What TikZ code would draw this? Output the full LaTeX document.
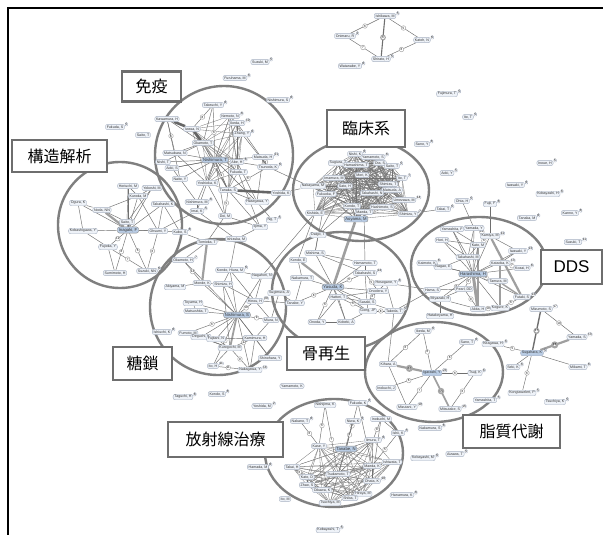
\documentclass[tikz,border=0pt]{standalone}
\usepackage{fontspec}
\setmainfont{Liberation Sans}
\newfontfamily\jpfont{Noto Sans CJK JP}
\definecolor{ringc}{HTML}{7F7F7F}
\definecolor{boxc}{HTML}{6E6E6E}
\definecolor{pill}{HTML}{EEF2F8}
\definecolor{pilld}{HTML}{A8B2C2}
\definecolor{hubc}{HTML}{B9CCE4}
\definecolor{edgec}{HTML}{6F6F6F}
\pgfdeclarelayer{edgel}
\pgfdeclarelayer{ringl}
\pgfdeclarelayer{topl}
\pgfsetlayers{edgel,ringl,main,topl}
\tikzset{
 pn/.style={draw=pilld, fill=pill, rounded corners=2pt, inner xsep=1.3pt, inner ysep=1.1pt, line width=0.4pt, font=\fontsize{3.6}{3.6}\selectfont, text=black!80},
 hubn/.style={pn, fill=hubc, draw=black!45, font=\fontsize{4.2}{4.2}\selectfont},
 sp/.style={draw=pilld, fill=white, rounded corners=0.8pt, inner sep=0.4pt, font=\fontsize{3.2}{3.2}\selectfont, anchor=west},
 e/.style={draw=edgec, line width=0.45pt},
 ce/.style={draw=black!55, line width=0.3pt},
 te/.style={draw=gray!75, line width=2.2pt},
 de/.style={draw=black!60, line width=2.6pt},
 wl/.style={circle, draw=gray!70, fill=white, inner sep=0.3pt, minimum size=4.6pt, font=\fontsize{3}{3}\selectfont},
 ring/.style={draw=ringc, line width=2.4pt},
 lab/.style={draw=boxc, line width=2.6pt, fill=white, inner sep=0pt, font=\jpfont\fontsize{16}{16}\selectfont},
}
\newcommand\pnd[5]{\node[pn] (#1) at (#2,#3) {#4};\node[sp] (#1s) at ([xshift=0.3pt,yshift=-0.3pt]#1.north east) {#5};}
\newcommand\pnn[4]{\node[pn] (#1) at (#2,#3) {#4};}
\newcommand\pnh[4]{\node[hubn] (#1) at (#2,#3) {#4};}
\newcommand\ed[2]{\draw[e] (#1) -- (#2);}
\newcommand\edw[3]{\draw[e] (#1) -- node[wl]{#3} (#2);}
\begin{document}
\begin{tikzpicture}[x=1pt,y=-1pt]
\useasboundingbox (0,0) rectangle (603,535);
% ---------- nodes: outside ----------
\pnd{o1}{385}{16}{Ishikawa, M}{5}
\pnd{o2}{345}{36}{Onimaru, R}{2}
\pnd{o3}{422}{40}{Katoh, N}{6}
\pnd{o4}{381}{59}{Shirato, H}{5}
\pnd{o5}{350}{66}{Watanabe, Y}{6}
\pnd{o6}{447}{94}{Fujimura, T}{5}
\pnd{o7}{468}{117}{Ito, T}{5}
\pnd{o8}{422}{144}{Sano, Y}{6}
\pnd{o9}{545}{163}{Inoue, H}{5}
\pnd{o10}{447}{173}{Aoki, Y}{5}
\pnd{o11}{260}{62}{Suzuki, M}{5}
\pnd{o12}{235}{78}{Furuhama, M}{6}
\pnd{o13}{278}{100}{Nishimura, S}{6}
\pnd{o14}{115}{127}{Fukuda, S}{5}
\pnn{o15}{143}{135}{Saito, T}
\pnd{o16}{515}{185}{Iwasaki, Y}{6}
\pnd{o17}{548}{194}{Kobayashi, H}{6}
\pnd{o18}{570}{213}{Kanno, Y}{6}
\pnd{o19}{527}{218}{Tanaka, M}{6}
\pnd{o20}{573}{242}{Suzuki, T}{11}
\pnd{o21}{443}{209}{Takai, T}{5}
\pnd{o22}{462}{201}{Ohta, H}{5}
\pnd{o23}{490}{204}{Fujii, F}{6}
\pnn{o24}{440}{316}{Hatakeyama, H}
\pnd{o25}{541}{309}{Mizumoto, S}{17}
\pnd{o26}{577}{337}{Yamada, S}{13}
\node[pn, fill=hubc] (o27) at (532,353) {Sugahara, K};\node[sp] (o27s) at ([xshift=0.3pt,yshift=-0.3pt]o27.north east) {5};
\pnd{o28}{513}{367}{Seki, K}{6}
\pnd{o29}{578}{367}{Mikami, T}{6}
\pnd{o30}{522}{393}{Kongtawelert, P}{5}
\pnd{o31}{555}{402}{Tsuchiya, K}{5}
\pnd{o32}{493}{344}{Kitagawa, H}{6}
\pnd{o33}{430}{428}{Nakamura, S}{6}
\pnd{o34}{423}{458}{Kobayashi, M}{6}
\pnd{o35}{455}{454}{Aizawa, T}{5}
\pnd{o36}{402}{495}{Hanamura, K}{6}
\pnd{o37}{328}{530}{Kobayashi, T}{5}
\pnd{o38}{183}{397}{Taguchi, H}{6}
\pnd{o39}{217}{394}{Kondo, S}{6}
\pnd{o40}{262}{406}{Yoshida, M}{2}
\pnn{o41}{292}{386}{Yamamoto, K}
\pnd{o42}{258}{467}{Hamada, M}{6}
\pnn{o43}{285}{499}{Ito, M}
\pnd{o44}{162}{332}{Ishiuchi, K}{6}
% ---------- immune ----------
\pnd{m1}{213}{105}{Takeuchi, Y}{6}
\pnn{m2}{167}{119}{Kawamura, H}
\pnd{m3}{230}{116}{Nemoto, N}{6}
\pnd{m4}{237}{123}{Ikeda, H}{10}
\pnn{m5}{192}{129}{Iwasa, N}
\pnd{m6}{242}{134}{Zhang, Y}{6}
\pnn{m7}{203}{143}{Okamoto, T}
\pnn{m8}{175}{153}{Matsubara, N}
\pnn{m25}{163}{162}{Nishi, T}
\pnn{m14}{172}{168}{Aoki, S}
\pnd{m10}{237}{162}{Abe, H}{6}
\pnd{m11}{263}{157}{Matsuda, H}{21}
\pnd{m12}{268}{167}{Tsunoda, K}{6}
\pnn{m13}{238}{172}{Fukuda, T}
\pnn{m15}{180}{179}{Naito, Y}
\pnn{m16}{207}{183}{Yoshioka, K}
\pnn{m24}{281}{193}{Yoshida, K}
\pnd{m18}{197}{202}{Nishimura, M}{6}
\pnd{m19}{197}{211}{Imai, K}{5}
\pnn{m20}{257}{202}{Hasegawa, Y}
\pnn{m21}{225}{216}{Doi, M}
\pnd{m22}{272}{220}{Ng, T}{5}
\pnn{m23}{260}{227}{Iijima, Y}
\pnn{m17}{228}{190}{Tanaka, S}
\pnh{m9}{215}{160}{Nishimura, T}
% ---------- structure ----------
\pnn{k1}{128}{186}{Horiuchi, M}
\pnn{k2}{152}{188}{Yokoshi, M}
\pnn{k3}{138}{196}{Kuroda, M}
\pnn{k4}{78}{203}{Ogura, K}
\pnn{k5}{102}{210}{Noda, NN}
\pnn{k6}{163}{204}{Takahashi, K}
\pnn{k7}{127}{222}{Saito, T}
\pnn{k9}{158}{231}{Ohsumi, Y}
\pnn{k10}{83}{231}{Kobashigawa, Y}
\pnd{k11}{180}{232}{Kubo, S}{6}
\pnn{k12}{108}{247}{Fujioka, Y}
\pnd{k13}{147}{271}{Suzuki, NN}{6}
\pnn{k14}{115}{273}{Sumimoto, H}
\pnh{k8}{128}{230}{Inagaki, F}
% ---------- glycan ----------
\pnn{g20}{207}{242}{Tomioka, T}
\pnn{g21}{236}{239}{Ishizuka, M}
\pnd{g1}{183}{260}{Okamoto, H}{7}
\pnd{g2}{230}{270}{Kondo, Hiura, M}{6}
\pnn{g3}{262}{276}{Nagahori, N}
\pnn{g4}{175}{287}{Akiyama, M}
\pnn{g5}{202}{283}{Monde, K}
\pnn{g6}{223}{284}{Shimizu, H}
\pnd{g10}{255}{301}{Hinou, H}{20}
\pnn{g7}{193}{303}{Toyama, H}
\pnn{g8}{196}{311}{Matsushita, T}
\pnn{g11}{271}{320}{Miura, N}
\pnn{g12}{188}{333}{Fumoto, M}
\pnn{g13}{201}{337}{Deguchi, K}
\pnn{g14}{216}{339}{Fujitani, N}
\pnn{g15}{255}{338}{Kamimura, H}
\pnn{g16}{230}{348}{Kurogochi, M}
\pnn{g17}{270}{358}{Shinohara, Y}
\pnd{g18}{213}{366}{Ito, H}{11}
\pnd{g19}{250}{370}{Nakagawa, Y}{14}
\pnh{g9}{237}{315}{Nishimura, S}
% ---------- bone ----------
\pnn{b1}{318}{235}{Daigo, T}
\pnn{b3}{315}{253}{Mishima, S}
\pnn{b2}{298}{260}{Kondo, E}
\pnn{b8}{365}{263}{Hamamoto, T}
\pnd{b7}{365}{273}{Takahashi, S}{14}
\pnn{b4}{302}{278}{Nakamura, T}
\pnd{b9}{386}{283}{Hosogane, Y}{6}
\pnn{b10}{378}{291}{Onodera, Y}
\pnn{b17}{279}{293}{Sugimura, A}
\pnn{b6}{338}{297}{Hattori, T}
\pnn{b11}{367}{302}{Sasaki, S}
\pnn{b16}{295}{303}{Tanabe, Y}
\pnn{b12}{368}{311}{Gong, JP}
\pnd{b13}{394}{311}{Takeda, T}{5}
\pnn{b14}{317}{322}{Onoda, Y}
\pnn{b15}{346}{322}{Kobeki, A}
\pnh{b5}{333}{287}{Yasuda, K}
% ---------- clinical ----------
\pnd{c1}{355}{154}{Nishi, K}{6}
\pnd{c2}{373}{157}{Yamamoto, S}{6}
\pnn{c3}{338}{163}{Sugiura, T}
\pnn{c4}{356}{165}{Hamashima, T}
\pnn{c5}{380}{163}{Ota, S}
\pnd{c6}{392}{166}{Saito, T}{5}
\pnn{c22}{362}{175}{Mori, K}
\pnn{c7}{334}{178}{Imamura, M}
\pnd{c9}{402}{178}{Ito, T}{7}
\pnn{c8}{313}{186}{Nakayama, M}
\pnn{c21}{345}{186}{Sato, H}
\pnn{c10}{388}{184}{Shimizu, T}
\pnn{c11}{392}{190}{Matsuda, A}
\pnn{c12}{372}{193}{Takahashi, N}
\pnn{c13}{326}{194}{Fukuoka, F}
\pnd{c14}{404}{200}{Umezawa, M}{14}
\pnn{c16}{352}{206}{Kondo, T}
\pnn{c15}{382}{207}{Hashimoto, S}
\pnn{c17}{364}{212}{Maeda, T}
\pnn{c20}{315}{213}{Kishida, E}
\pnd{c18}{408}{214}{Shimizu, Y}{7}
\pnh{c19}{356}{219}{Aoyama, M}
% ---------- DDS ----------
\pnn{d1}{452}{229}{Yamashita, F}
\pnn{d2}{474}{228}{Yamada, Y}
\pnd{d3}{490}{236}{Kamiya, M}{11}
\pnn{d4}{442}{240}{Hori, H}
\pnn{d5}{478}{245}{Kato, M}
\pnd{d6}{518}{251}{Iwasaki, Y}{13}
\pnn{d7}{468}{257}{Takahashi, M}
\pnd{d8}{427}{263}{Kaimoto, K}{6}
\pnn{d9}{443}{267}{Nagao, E}
\pnd{d10}{500}{263}{Kataoka, K}{13}
\pnd{d11}{522}{268}{Kozai, H}{6}
\pnn{d13}{498}{281}{Tamura, M}
\pnn{d14}{432}{290}{Hama, S}
\pnn{d15}{464}{289}{Pearl, DD}
\pnn{d16}{440}{299}{Miyazaki, H}
\pnd{d17}{522}{297}{Futaki, S}{13}
\pnn{d19}{500}{308}{Kogure, K}
\pnn{d18}{478}{309}{Akita, H}
\pnh{d12}{473}{274}{Harashima, H}
% ---------- lipid ----------
\pnd{l1}{423}{331}{Ikeda, M}{6}
\pnd{l2}{467}{342}{Sano, T}{6}
\pnn{l3}{388}{364}{Kihara, A}
\pnd{l5}{475}{373}{Tsuji, K}{6}
\pnn{l6}{386}{388}{Inokuchi, J}
\pnd{l7}{407}{407}{Mizutani, Y}{10}
\pnd{l8}{450}{409}{Mitsutake, S}{15}
\pnd{l9}{485}{400}{Yamashita, T}{5}
\node[pn, fill=hubc] (l4) at (432,373) {Igarashi, Y};\node[sp] (l4s) at ([xshift=0.3pt,yshift=-0.3pt]l4.north east) {24};
% ---------- radiation ----------
\pnn{r1}{325}{405}{Nishijima, K}
\pnd{r2}{358}{403}{Fukuda, K}{6}
\pnd{r3}{300}{421}{Nakano, T}{6}
\pnd{r4}{353}{421}{Niwa, K}{6}
\pnn{r5}{381}{419}{Inokuchi, M}
\pnd{r6}{398}{433}{Ishii, K}{5}
\pnd{r9}{373}{440}{Iimura, T}{6}
\pnn{r7}{319}{446}{Kase, Y}
\pnh{r8}{346}{449}{Tanabe, N}
\pnn{r12}{392}{462}{Ishiwata, T}
\pnn{r11}{372}{466}{Maeda, K}
\pnn{r10}{292}{467}{Takai, H}
\pnn{r13}{338}{474}{Tsukamoto, T}
\pnn{r14}{307}{477}{Kato, D}
\pnd{r20}{372}{481}{Ohata, K}{10}
\pnn{r15}{307}{485}{Zhao, S}
\pnn{r16}{322}{490}{Oikawa, K}
\pnn{r19}{363}{494}{Hiroya, M}
\pnn{r18}{350}{498}{Shiba, T}
\pnn{r17}{330}{503}{Tsuchiya, M}
% ================= edges =================
\begin{pgfonlayer}{edgel}
\fill[white] (0,0) rectangle (603,535);
% top-right group
\edw{o1}{o2}{6} \edw{o1}{o3}{5} \draw[e, line width=1.1pt] (o1) -- node[wl]{6} (o4);
\edw{o2}{o4}{7} \edw{o3}{o4}{6}
% Sugahara group
\draw[e, line width=1.4pt] (o25) -- node[wl]{17} (o27);
\edw{o25}{o26}{10}
\draw[te] (o26) -- node[wl]{13} (o27);
\ed{o27}{o29} \edw{o27}{o30}{6} \edw{o32}{o27}{5} \ed{o27}{o28}
% immune
\foreach \a in {3,4,5,6,7,9,10,13,16,17}{\foreach \b in {3,4,5,6,7,9,10,13,16,17}{\ifnum\a<\b\relax\draw[ce] (m\a) -- (m\b);\fi}}
\foreach \j in {8,11,14,15,18,20,21,25} {\draw[e] (m9) -- (m\j);}
\edw{m9}{m1}{6} \edw{m1}{m5}{8} \edw{m2}{m8}{6} \edw{m7}{m17}{14} \edw{m12}{m17}{6}
\edw{m17}{m21}{5} \edw{m13}{m23}{6} \edw{m11}{m12}{8} \edw{m9}{m17}{9}
\foreach \a/\b in {m2/m7,m2/m15,m1/m7,m17/m20,m17/m23,m20/m22,m18/m19,m16/m19,m11/m20,m8/m16,m14/m15,m15/m18,m10/m12,m21/m23,m4/m12,m6/m12,m10/m20,m16/m21,m8/m7,m25/m7,m14/m9}
 {\draw[e] (\a) -- (\b);}
\draw[de] (m2) -- (m5); \draw[de] (m5) -- (m7); \draw[de] (m17) -- (m24);
\draw[te, line width=1.4pt] (m7) -- (m9);
% structure
\foreach \j in {1,2,3,4,6,7,9,10,11} {\draw[e] (k8) -- (k\j);}
\edw{k8}{k13}{6} \edw{k8}{k14}{8} \edw{k12}{k13}{7} \edw{k9}{k13}{6} \edw{k8}{k12}{12}
\draw[te] (k5) -- (k8);
\foreach \a/\b in {k5/k4,k5/k7,k12/k14,k6/k9,k3/k9,k1/k7,k2/k7,k10/k12,k4/k10,k2/k3,k6/k11,k1/k3,k5/k3}
 {\draw[e] (\a) -- (\b);}
% glycan
\foreach \j in {1,2,3,5,6,7,8,13,14,15,17} {\draw[e] (g9) -- (g\j);}
\edw{g1}{g5}{14} \edw{g9}{g12}{6} \edw{g9}{g18}{8} \edw{g18}{g19}{11} \edw{g16}{g19}{9}
\edw{g9}{g10}{10} \edw{g9}{g11}{9} \edw{g9}{g19}{7}
\draw[te] (g20) -- (g5); \draw[te, line width=1.8pt] (g9) -- (g16);
\foreach \a/\b in {g20/g21,g21/g2,g4/g5,g2/g3,g10/g11,g14/g16,g16/g18,g15/g17,g12/g13,g6/g10,g2/g6,g3/g10,g7/g8,g13/g14,g15/g19,g11/g15,g1/g20,g5/g6,g2/g10,g12/g16,g14/g15,g13/g16,g16/g15,g6/g16}
 {\draw[e] (\a) -- (\b);}
% bone
\foreach \j in {3,4,6,8,10,11,12,15} {\draw[e] (b5) -- (b\j);}
\edw{b5}{b16}{8} \edw{b5}{b14}{6} \edw{b6}{b12}{6} \edw{b12}{b13}{8} \edw{b7}{b10}{5} \edw{b10}{b11}{6} \edw{b5}{b7}{6}
\draw[te] (b2) -- (b5);
\foreach \a/\b in {b7/b8,b9/b10,b11/b12,b12/b15,b6/b14,b16/b17,b2/b4,b9/b13,b3/b8,b11/b13,b14/b15,b6/b15,b4/b16,b1/b3,b6/b11,b7/b11,b6/b10,b3/b7}
 {\draw[e] (\a) -- (\b);}
% clinical (dense)
\foreach \i in {1,...,22}{\foreach \j in {1,...,22}{\ifnum\i<\j\relax\draw[ce] (c\i) -- (c\j);\fi}}
\draw[te, line width=2.6pt] (c19) -- (b5);
\foreach \a/\b in {c20/b2,c16/b1,c17/b8,c13/b3,c21/b1}
 {\draw[e] (\a) -- (\b);}
% DDS
\foreach \j in {1,2,4,6,7,8,9,10,11,14,19} {\draw[e] (d12) -- (d\j);}
\edw{d2}{d3}{14} \edw{d3}{d5}{6} \edw{d12}{d13}{6} \edw{d12}{d15}{5} \edw{d15}{d18}{8}
\edw{d18}{d19}{10} \edw{d12}{d16}{6} \edw{d17}{d19}{6} \edw{d8}{d9}{6} \edw{d10}{d11}{7}
\draw[te, line width=3pt] (d12) -- (d18); \draw[te] (d3) -- (d17); \draw[te] (d5) -- (d18);
\draw[te, line width=1.5pt] (d13) -- (d17); \draw[te, line width=1.5pt] (d10) -- (d19);
\foreach \a/\b in {d1/d2,d1/d5,d4/d7,d5/d7,d6/d10,d14/d15,d15/d16,d16/d18,d3/d6,d7/d9,d4/d5,d12/d5,d12/d3,d12/d17,d1/d7,d2/d7}
 {\draw[e] (\a) -- (\b);}
\ed{o22}{d2} \ed{o23}{d3} \ed{o21}{c18} \ed{o24}{d16}
% lipid
\draw[te] (l3) -- node[wl]{22} (l4);
\edw{l4}{l5}{6} \edw{l4}{l6}{6} \edw{l4}{l7}{7} \draw[te, line width=1.6pt] (l4) -- node[wl]{15} (l8);
\ed{l3}{l7} \edw{l5}{l8}{6} \edw{l1}{l4}{6} \edw{l1}{l3}{6} \edw{l2}{l4}{6}
% radiation (dense)
\foreach \i in {7,...,20}{\foreach \j in {7,...,20}{\ifnum\i<\j\relax\draw[ce] (r\i) -- (r\j);\fi}}
\edw{r1}{r7}{6} \edw{r1}{r13}{7} \edw{r2}{r8}{6} \edw{r4}{r8}{6} \ed{r4}{r13}
\edw{r5}{r9}{8} \edw{r6}{r11}{5} \edw{r10}{r14}{6} \edw{r3}{r7}{6} \ed{r5}{r20} \ed{r2}{r11} \ed{r5}{r6}
% inter-cluster
\foreach \a/\b in {m24/c8,m12/c13,m21/g20,m19/g21,k9/m19,g11/b17,g10/b16,b9/d14,g21/m23,k11/g20,c20/g3,b13/l3,d14/b13}
 {\draw[e] (\a) -- (\b);}
\end{pgfonlayer}
% ================= rings =================
\begin{pgfonlayer}{ringl}
\draw[ring] (224,155) ellipse [x radius=69, y radius=69];
\draw[ring] (120,225) ellipse [x radius=62, y radius=63];
\draw[ring] (361,190) ellipse [x radius=68, y radius=51];
\draw[ring] (341,291) ellipse [x radius=69, y radius=59];
\draw[ring] (218,307) ellipse [x radius=68, y radius=68];
\draw[ring] (479,266) ellipse [x radius=68, y radius=49];
\draw[ring] (434,372) ellipse [x radius=69, y radius=50];
\draw[ring] (334,453) ellipse [x radius=69, y radius=54];
\end{pgfonlayer}
% ================= labels & frame =================
\begin{pgfonlayer}{topl}
\node[lab, minimum width=59pt, minimum height=30pt] (L1) at (151.5,86.5) {免疫};
\node[lab, minimum width=95pt, minimum height=32pt] (L2) at (59.5,156) {構造解析};
\node[lab, minimum width=78pt, minimum height=37pt] (L3) at (366,128.5) {臨床系};
\node[lab, minimum width=61pt, minimum height=34pt, font=\fontsize{17}{17}\selectfont] (L4) at (571.5,267) {DDS};
\node[lab, minimum width=59pt, minimum height=33pt] (L5) at (142.5,363.5) {糖鎖};
\node[lab, minimum width=78pt, minimum height=33pt] (L6) at (326,353.5) {骨再生};
\node[lab, minimum width=97pt, minimum height=33pt] (L7) at (511.5,431.5) {脂質代謝};
\node[lab, minimum width=115pt, minimum height=35pt] (L8) at (225.5,439.5) {放射線治療};
\draw[black, line width=1.8pt] (8,535) -- (8,8) -- (603,8);
\end{pgfonlayer}
\end{tikzpicture}
\end{document}
